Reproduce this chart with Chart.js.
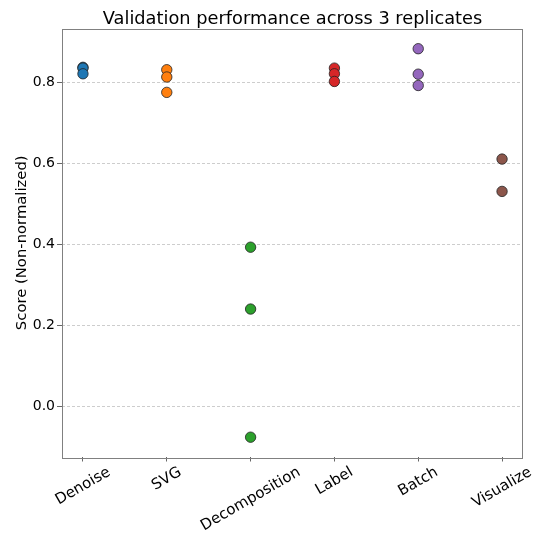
<!DOCTYPE html>
<html>
<head>
<meta charset="utf-8">
<script src="https://cdn.jsdelivr.net/npm/chart.js@4"></script>
<style>
  html, body { margin: 0; padding: 0; background: #fff; }
</style>
</head>
<body>
<canvas id="myChart" width="537" height="534"></canvas>
<script>
const categories = ['Denoise', 'SVG', 'Decomposition', 'Label', 'Batch', 'Visualize'];
const denoise = [0.838, 0.836, 0.822];
const svg = [0.832, 0.814, 0.776];
const decomposition = [0.393, 0.240, -0.077];
const label = [0.836, 0.822, 0.803];
const batch = [0.884, 0.821, 0.793];
const visualize = [0.611, 0.531];
const yTicks = [0.0, 0.2, 0.4, 0.6, 0.8];
const colors = ['#1f77b4', '#ff7f0e', '#2ca02c', '#d62728', '#9467bd', '#8c564b'];
const titleText = 'Validation performance across 3 replicates';

const series = [denoise, svg, decomposition, label, batch, visualize];
const FONT = '"DejaVu Sans", sans-serif';

// frame around the plot area + title centred over it (matplotlib style)
const framePlugin = {
  id: 'frame',
  afterDraw(chart) {
    const { ctx, chartArea: a } = chart;
    ctx.save();
    ctx.strokeStyle = '#808080';
    ctx.lineWidth = 1;
    ctx.strokeRect(Math.round(a.left) + 0.5, Math.round(a.top) + 0.5,
      Math.round(a.right - a.left) - 1, Math.round(a.bottom - a.top));
    ctx.font = '17.8px ' + FONT;
    ctx.fillStyle = '#000';
    ctx.textAlign = 'center';
    ctx.textBaseline = 'alphabetic';
    ctx.fillText(titleText, (a.left + a.right) / 2, a.top - 4.5);
    ctx.restore();
  }
};

// rotated, centred category labels
const xLabelPlugin = {
  id: 'xlabels',
  afterDraw(chart) {
    const { ctx } = chart;
    const xs = chart.scales.x;
    const top = xs.top + 7;
    ctx.save();
    ctx.font = '15px ' + FONT;
    ctx.fillStyle = '#000';
    categories.forEach((c, i) => {
      const x = xs.getPixelForValue(i);
      const w = ctx.measureText(c).width;
      const h = 15 * 1.1;
      const bh = w * 0.5 + h * 0.866;
      ctx.save();
      ctx.translate(x, top + bh / 2);
      ctx.rotate(-Math.PI / 6);
      ctx.textAlign = 'center';
      ctx.textBaseline = 'middle';
      ctx.fillText(c, 0, 0);
      ctx.restore();
    });
    ctx.restore();
  }
};

const ctx = document.getElementById('myChart').getContext('2d');
new Chart(ctx, {
  type: 'scatter',
  data: {
    datasets: series.map((vals, i) => ({
      label: categories[i],
      data: vals.map(v => ({ x: i, y: v })),
      backgroundColor: colors[i],
      borderColor: '#222',
      borderWidth: 0.8,
      pointRadius: 5.2,
      pointHoverRadius: 5.2
    }))
  },
  options: {
    responsive: false,
    animation: false,
    layout: { padding: { left: 0, right: 14, top: 28.5, bottom: 0 } },
    plugins: {
      legend: { display: false },
      tooltip: { enabled: false },
      title: { display: false }
    },
    scales: {
      x: {
        type: 'linear',
        min: -0.25,
        max: 5.25,
        afterBuildTicks: s => { s.ticks = categories.map((c, i) => ({ value: i })); },
        afterFit: s => { s.height = 77; },
        ticks: { display: false },
        grid: { drawOnChartArea: false, drawTicks: true, tickLength: 4.5, tickColor: '#666', tickWidth: 1 },
        border: { display: false }
      },
      y: {
        min: -0.126,
        max: 0.934,
        afterBuildTicks: s => { s.ticks = yTicks.map(v => ({ value: v })); },
        afterFit: s => { s.width = 62; },
        ticks: {
          color: '#000',
          padding: 2,
          font: { family: FONT, size: 14 },
          callback: v => v.toFixed(1)
        },
        grid: {
          color: 'rgba(176,176,176,0.8)',
          lineWidth: 0.8,
          drawTicks: true,
          tickLength: 5,
          tickColor: '#666',
          tickWidth: 1
        },
        border: { display: false, dash: [3, 2] },
        title: {
          display: true,
          text: 'Score (Non-normalized)',
          color: '#000',
          font: { family: FONT, size: 14.8 },
          padding: { top: 13.5, bottom: 0 }
        }
      }
    }
  },
  plugins: [framePlugin, xLabelPlugin]
});
</script>
</body>
</html>
